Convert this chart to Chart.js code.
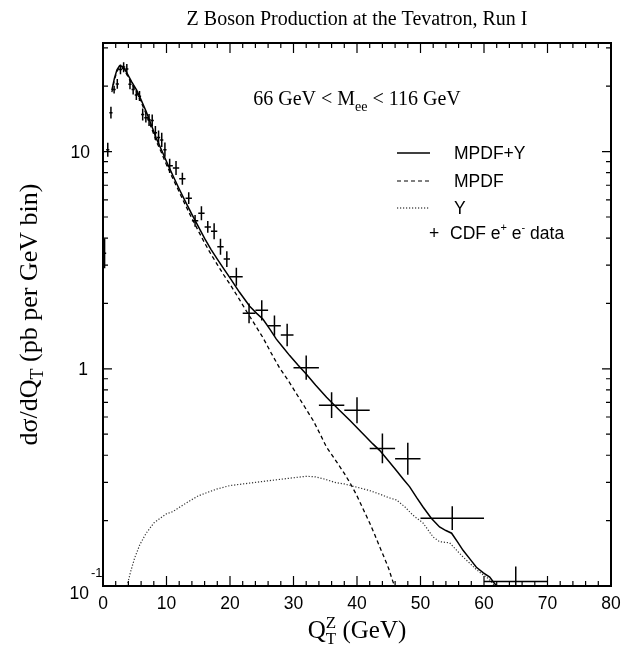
<!DOCTYPE html>
<html>
<head>
<meta charset="utf-8">
<title>Z Boson Production at the Tevatron, Run I</title>
<script src="https://cdn.jsdelivr.net/npm/chart.js@4.4.1/dist/chart.umd.min.js"></script>
<style>
  body { margin: 0; background: #fff; }
  canvas { display: block; }
</style>
</head>
<body>
<canvas id="zpt" width="634" height="649"></canvas>
<script>
// CDF e+e- data: bin centre, value, lower / upper end of error bar, half bin width
var qtData = [0.25, 0.75, 1.25, 1.75, 2.25, 2.75, 3.25, 3.75, 4.25, 4.75, 5.25, 5.75, 6.25, 6.75, 7.25, 7.75, 8.25, 8.75, 9.25, 9.75,
  10.5, 11.5, 12.5, 13.5, 14.5, 15.5, 16.5, 17.5, 18.5, 19.5, 21, 23, 25, 27, 29, 32, 36, 40, 44, 48, 55, 65];
var sigData = [3.4, 10.2, 15.1, 19.3, 20.5, 23.9, 24.5, 24.0, 20.4, 19.3, 18.2, 18.0, 14.8, 14.3, 14.0, 13.9, 12.2, 11.6, 11.3, 10.2,
  8.6, 8.4, 7.5, 6.1, 4.8, 5.2, 4.5, 4.3, 3.65, 3.2, 2.65, 1.80, 1.86, 1.58, 1.43, 1.01, 0.68, 0.645, 0.43, 0.385, 0.205, 0.105];
var sigLo = [2.90, 9.47, 14.2, 18.5, 19.45, 22.7, 23.2, 22.8, 19.35, 18.3, 17.3, 17.1, 13.9, 13.6, 13.1, 13.05, 11.3, 10.8, 10.5, 9.47,
  7.98, 7.8, 7.04, 5.73, 4.51, 4.83, 4.23, 3.95, 3.35, 2.94, 2.41, 1.62, 1.67, 1.42, 1.27, 0.89, 0.593, 0.562, 0.367, 0.325, 0.181, 0.085];
var sigHi = [3.98, 10.99, 16.1, 20.1, 21.6, 25.2, 25.8, 25.3, 21.5, 20.3, 19.2, 19.0, 15.8, 15.1, 14.9, 14.8, 13.1, 12.5, 12.2, 11.0,
  9.26, 9.05, 7.99, 6.5, 5.11, 5.6, 4.79, 4.68, 3.97, 3.48, 2.92, 2.0, 2.07, 1.76, 1.61, 1.15, 0.78, 0.74, 0.504, 0.456, 0.233, 0.123];
var qtHalf = [0.25, 0.25, 0.25, 0.25, 0.25, 0.25, 0.25, 0.25, 0.25, 0.25, 0.25, 0.25, 0.25, 0.25, 0.25, 0.25, 0.25, 0.25, 0.25, 0.25,
  0.5, 0.5, 0.5, 0.5, 0.5, 0.5, 0.5, 0.5, 0.5, 0.5, 1, 1, 1, 1, 1, 2, 2, 2, 2, 2, 5, 5];

// MPDF+Y (solid)
var qtTotal = [1.4, 1.8, 2.2, 2.6, 3.0, 3.4, 3.8, 4.5, 5.3, 6.0, 6.8, 7.6, 8.4, 9.2, 10, 11, 12, 13, 14, 15, 16, 17, 18, 19,
  20, 21.5, 23.1, 24.2, 25.2, 26.3, 27.3, 28.4, 29.4, 30.7, 32, 33.5, 35.2, 37, 38.9, 40.7, 42.5, 43.6, 45, 46.2, 47.3,
  48.3, 49.4, 50.4, 51.7, 53, 54, 54.9, 55.8, 56.7, 57.8, 58.8, 59.9, 60.9, 61.5, 62];
var sigTotal = [19.2, 21.8, 23.8, 24.8, 24.7, 24.0, 22.9, 21.0, 19.2, 17.3, 15.3, 13.3, 11.5, 10.2, 9.0, 7.76, 6.73, 5.87, 5.14, 4.53,
  3.99, 3.55, 3.20, 2.89, 2.62, 2.25, 1.94, 1.8, 1.69, 1.52, 1.37, 1.25, 1.15, 1.04, 0.946, 0.84, 0.739, 0.655, 0.578, 0.51, 0.451,
  0.42, 0.375, 0.34, 0.31, 0.286, 0.255, 0.231, 0.205, 0.187, 0.18, 0.175, 0.16, 0.146, 0.133, 0.122, 0.115, 0.11, 0.104, 0.1];

// MPDF (dashed)
var qtMpdf = [1.4, 1.8, 2.2, 2.6, 3.0, 3.4, 3.8, 4.5, 5.3, 6.0, 6.8, 7.6, 8.4, 9.2, 10, 11, 12, 13, 14, 15, 16, 17, 18, 19,
  20, 21.3, 22.6, 23.9, 25.2, 26.5, 27.8, 29.2, 30.5, 31.8, 33.1, 34.2, 35.2, 36.6, 38, 39, 40, 41, 42, 42.8, 43.6, 44.3,
  45, 45.5, 45.9];
var sigMpdf = [18.8, 21.4, 23.4, 24.4, 24.3, 23.6, 22.5, 20.6, 18.8, 16.9, 14.9, 12.9, 11.15, 9.9, 8.7, 7.52, 6.52, 5.65, 4.93, 4.32,
  3.80, 3.37, 3.02, 2.71, 2.45, 2.13, 1.84, 1.6, 1.39, 1.18, 1.01, 0.88, 0.765, 0.665, 0.578, 0.5, 0.436, 0.38, 0.33, 0.295, 0.26,
  0.225, 0.195, 0.172, 0.151, 0.135, 0.12, 0.108, 0.1];

// Y (dotted)
var qtY = [3.8, 4.3, 5, 5.8, 6.8, 8, 9, 10, 11, 12, 13.5, 15, 16.5, 18, 20, 22, 24, 26, 28, 30, 32, 33.5, 35, 36.5, 38, 40, 42, 44, 45,
  46.2, 47.5, 48.8, 50.4, 52, 53, 54.6, 55.6, 56.7, 57.8, 58.8, 59.6, 60.4, 61.1, 61.7];
var sigY = [0.1, 0.115, 0.135, 0.155, 0.175, 0.195, 0.205, 0.215, 0.22, 0.23, 0.245, 0.26, 0.27, 0.28, 0.29, 0.295, 0.3, 0.305, 0.31,
  0.315, 0.32, 0.318, 0.31, 0.3, 0.295, 0.285, 0.275, 0.262, 0.255, 0.249, 0.232, 0.212, 0.195, 0.168, 0.16, 0.158, 0.147, 0.136,
  0.127, 0.119, 0.114, 0.11, 0.105, 0.1];

var xTicks = [0, 10, 20, 30, 40, 50, 60, 70, 80];

var SERIF = '"Liberation Serif", "Times New Roman", serif';
var SANS = '"Liberation Sans", Arial, sans-serif';

function pts(xs, ys) {
  return xs.map(function(x, i) { return {x: x, y: ys[i]}; });
}

// draw a run of text pieces: [text, size, dy, family, advance]
function rich(ctx, parts, x, y, align) {
  var w = 0;
  parts.forEach(function(p) {
    ctx.font = p[1] + 'px ' + p[3];
    if (p[4] !== false) w += ctx.measureText(p[0]).width;
  });
  var cx = align === 'center' ? x - w / 2 : (align === 'right' ? x - w : x);
  ctx.textAlign = 'left';
  ctx.textBaseline = 'alphabetic';
  parts.forEach(function(p) {
    ctx.font = p[1] + 'px ' + p[3];
    ctx.fillText(p[0], cx, y + p[2]);
    if (p[4] !== false) cx += ctx.measureText(p[0]).width;
  });
}

var errorBars = {
  id: 'errorBars',
  afterDatasetsDraw: function(chart) {
    var ctx = chart.ctx, a = chart.chartArea, x = chart.scales.x, y = chart.scales.y;
    ctx.save();
    ctx.beginPath();
    ctx.rect(a.left, a.top, a.right - a.left, a.bottom - a.top);
    ctx.clip();
    ctx.strokeStyle = '#000';
    ctx.lineWidth = 1.5;
    for (var i = 0; i < qtData.length; i++) {
      var px = x.getPixelForValue(qtData[i]);
      var py = y.getPixelForValue(sigData[i]);
      ctx.beginPath();
      ctx.moveTo(px, y.getPixelForValue(sigLo[i]));
      ctx.lineTo(px, y.getPixelForValue(sigHi[i]));
      ctx.moveTo(x.getPixelForValue(qtData[i] - qtHalf[i]), py);
      ctx.lineTo(x.getPixelForValue(qtData[i] + qtHalf[i]), py);
      ctx.stroke();
    }
    ctx.restore();
  }
};

var decor = {
  id: 'decor',
  afterDraw: function(chart) {
    var ctx = chart.ctx, a = chart.chartArea, x = chart.scales.x, y = chart.scales.y;
    ctx.save();
    ctx.strokeStyle = '#000';
    ctx.fillStyle = '#000';

    // ticks, pointing inwards on all four sides
    ctx.lineWidth = 1.2;
    ctx.beginPath();
    for (var v = 0; v <= 80; v += 2) {
      var px = x.getPixelForValue(v);
      var len = v % 10 === 0 ? 10 : 5;
      ctx.moveTo(px, a.bottom); ctx.lineTo(px, a.bottom - len);
      ctx.moveTo(px, a.top); ctx.lineTo(px, a.top + len);
    }
    for (var d = -1; d <= 1; d++) {
      for (var m = 1; m <= 9; m++) {
        var val = m * Math.pow(10, d);
        if (val < y.min || val > y.max) continue;
        var py = y.getPixelForValue(val);
        var l2 = m === 1 ? 9 : 5;
        ctx.moveTo(a.left, py); ctx.lineTo(a.left + l2, py);
        ctx.moveTo(a.right, py); ctx.lineTo(a.right - l2, py);
      }
    }
    ctx.stroke();

    // frame
    ctx.lineWidth = 2;
    ctx.strokeRect(a.left, a.top, a.right - a.left, a.bottom - a.top);

    // x tick labels
    ctx.font = '17.5px ' + SANS;
    ctx.textAlign = 'center';
    ctx.textBaseline = 'alphabetic';
    xTicks.forEach(function(t) {
      ctx.fillText(String(t), x.getPixelForValue(t), a.bottom + 23);
    });

    // y tick labels
    ctx.textAlign = 'right';
    ctx.fillText('10', a.left - 13, y.getPixelForValue(10) + 6);
    ctx.fillText('1', a.left - 15, y.getPixelForValue(1) + 6);
    ctx.fillText('10', a.left - 14, y.getPixelForValue(0.1) + 13);
    ctx.textAlign = 'left';
    ctx.font = '13px ' + SANS;
    ctx.fillText('-1', a.left - 12, y.getPixelForValue(0.1) - 9);

    // title
    rich(ctx, [['Z Boson Production at the Tevatron, Run I', 20, 0, SERIF]], (a.left + a.right) / 2, 25, 'center');

    // mass window
    rich(ctx, [['66 GeV < M', 20, 0, SERIF], ['ee', 14, 6, SERIF], [' < 116 GeV', 20, 0, SERIF]],
      (a.left + a.right) / 2, 105, 'center');

    // x axis title
    rich(ctx, [['Q', 25, 0, SERIF], ['T', 17, 6, SERIF, false], ['Z', 17, -10, SERIF], [' (GeV)', 25, 0, SERIF]],
      (a.left + a.right) / 2, 638, 'center');

    // y axis title
    ctx.save();
    ctx.translate(37, (a.top + a.bottom) / 2);
    ctx.rotate(-Math.PI / 2);
    rich(ctx, [['d\u03c3/dQ', 26, 0, SERIF], ['T', 18, 6, SERIF], [' (pb per GeV bin)', 26, 0, SERIF]], 0, 0, 'center');
    ctx.restore();

    // legend
    var lx0 = 397, lx1 = 430, tx = 454;
    var rows = [153, 181, 208];
    var dashes = [[], [4, 3], [1.2, 1.8]];
    var names = ['MPDF+Y', 'MPDF', 'Y'];
    for (var r = 0; r < 3; r++) {
      ctx.lineWidth = r === 0 ? 1.5 : 1.2;
      ctx.setLineDash(dashes[r]);
      ctx.beginPath();
      ctx.moveTo(lx0, rows[r]);
      ctx.lineTo(lx1, rows[r]);
      ctx.stroke();
      ctx.setLineDash([]);
      rich(ctx, [[names[r], 17.5, 0, SANS]], tx, rows[r] + 6, 'left');
    }
    rich(ctx, [['+', 17.5, 0, SANS]], 434, 239, 'center');
    rich(ctx, [['CDF e', 17.5, 0, SANS], ['+', 11, -8, SANS], [' e', 17.5, 0, SANS], ['-', 11, -8, SANS],
      [' data', 17.5, 0, SANS]], 450, 239, 'left');

    ctx.restore();
  }
};

var ctx = document.getElementById('zpt');
var chart = new Chart(ctx, {
  type: 'scatter',
  data: {
    datasets: [
      {
        label: 'MPDF+Y',
        data: pts(qtTotal, sigTotal),
        showLine: true,
        borderColor: '#000',
        borderWidth: 1.5,
        pointRadius: 0,
        tension: 0
      },
      {
        label: 'MPDF',
        data: pts(qtMpdf, sigMpdf),
        showLine: true,
        borderColor: '#000',
        borderWidth: 1.3,
        borderDash: [4, 3],
        pointRadius: 0,
        tension: 0
      },
      {
        label: 'Y',
        data: pts(qtY, sigY),
        showLine: true,
        borderColor: '#333',
        borderWidth: 1.2,
        borderDash: [1.2, 1.8],
        pointRadius: 0,
        tension: 0
      }
    ]
  },
  options: {
    responsive: false,
    animation: false,
    devicePixelRatio: 1,
    layout: { padding: { left: 103, right: 23, top: 43, bottom: 63 } },
    plugins: { legend: { display: false }, tooltip: { enabled: false } },
    scales: {
      x: { type: 'linear', min: 0, max: 80, display: false },
      y: { type: 'logarithmic', min: 0.1, max: 31.62, display: false }
    }
  },
  plugins: [errorBars, decor]
});
</script>
</body>
</html>
